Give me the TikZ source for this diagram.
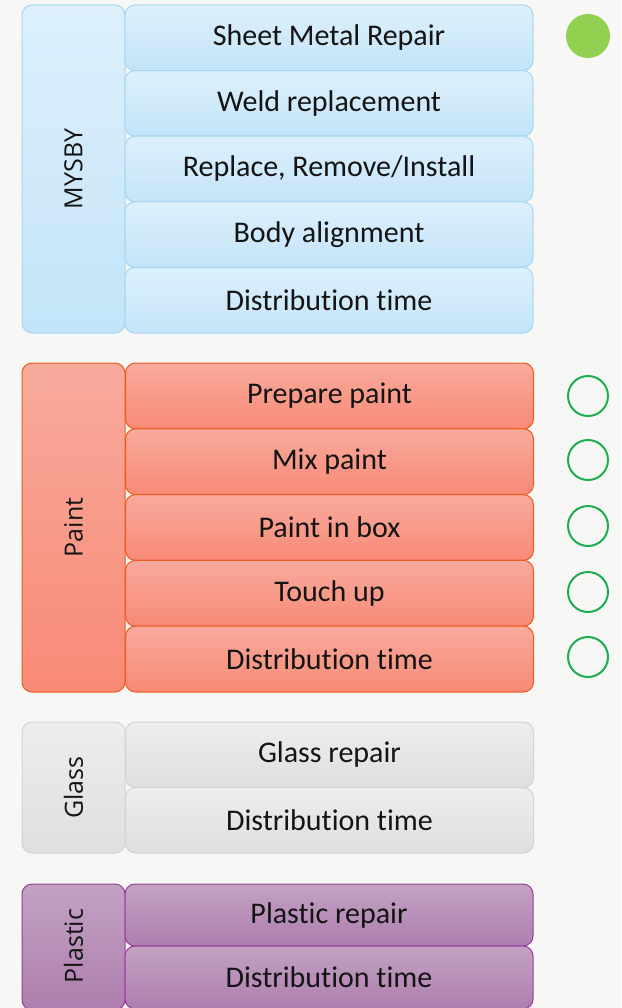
\documentclass[tikz,border=0pt]{standalone}
\usepackage{fontspec}
\setmainfont[Ligatures=NoCommon]{Carlito}
\newfontfamily\labfont{Open Sans}
\definecolor{bgc}{HTML}{F7F7F5}
\definecolor{bluetop}{HTML}{DDF0FC}
\definecolor{bluebot}{HTML}{C3E4F9}
\definecolor{bluebd}{HTML}{A6D6F2}
\definecolor{redtop}{HTML}{F8AA9D}
\definecolor{redbot}{HTML}{F88A76}
\definecolor{redbd}{HTML}{EE5A1E}
\definecolor{graytop}{HTML}{EDEDEC}
\definecolor{graybot}{HTML}{E0DFDD}
\definecolor{graybd}{HTML}{D3D3D1}
\definecolor{purtop}{HTML}{C2A2C3}
\definecolor{purbot}{HTML}{AE7EAE}
\definecolor{purbd}{HTML}{9A3B9C}
\definecolor{dotfill}{HTML}{92D050}
\definecolor{ringc}{HTML}{1DAE50}
\definecolor{txt}{HTML}{141414}
\tikzset{
  box/.style={rectangle, rounded corners=10pt, line width=1pt, inner sep=0pt, text=txt},
  item/.style={box, minimum width=408pt, font=\fontsize{30}{32}\selectfont},
  grp/.style={box, minimum width=103pt},
  blueb/.style={draw=bluebd, top color=bluetop, bottom color=bluebot},
  redb/.style={draw=redbd, top color=redtop, bottom color=redbot},
  grayb/.style={draw=graybd, top color=graytop, bottom color=graybot},
  purb/.style={draw=purbd, top color=purtop, bottom color=purbot},
  glabel/.style={rotate=90, text=txt, font=\labfont\fontsize{25}{27}\selectfont},
  dot/.style={circle, fill=dotfill, minimum size=44pt, inner sep=0pt},
  ring/.style={circle, draw=ringc, line width=2pt, minimum size=40pt, inner sep=0pt},
}
\begin{document}
\begin{tikzpicture}[x=1pt, y=-1pt]
\useasboundingbox (0,0) rectangle (621,1008);
\fill[bgc] (0,0) rectangle (621,1008);
\clip (0,0) rectangle (621,1008);
% MYSBY
\node[grp, blueb, minimum height=328pt] (g1) at (73.5,169) {};
\node[glabel] (l1) at (g1.center) {MYSBY};
\node[item, blueb, minimum height=65.6pt] (a1) at (329,37.8) {Sheet Metal Repair};
\node[item, blueb, minimum height=65.6pt] (a2) at (329,103.4) {Weld replacement};
\node[item, blueb, minimum height=65.6pt] (a3) at (329,169.0) {Replace, Remove/Install};
\node[item, blueb, minimum height=65.6pt] (a4) at (329,234.6) {Body alignment};
\node[item, blueb, minimum height=65.6pt] (a5) at (329,300.2) {Distribution time};
\node[dot] (d1) at (588,36) {};
% Paint
\node[grp, redb, minimum height=329pt] (g2) at (73.5,527.5) {};
\node[glabel] (l2) at (g2.center) {Paint};
\node[item, redb, minimum height=65.8pt] (b1) at (329.5,395.9) {Prepare paint};
\node[item, redb, minimum height=65.8pt] (b2) at (329.5,461.7) {Mix paint};
\node[item, redb, minimum height=65.8pt] (b3) at (329.5,527.5) {Paint in box};
\node[item, redb, minimum height=65.8pt] (b4) at (329.5,593.3) {Touch up};
\node[item, redb, minimum height=65.8pt] (b5) at (329.5,659.1) {Distribution time};
\node[ring] (r1) at (588,396) {};
\node[ring] (r2) at (588,460) {};
\node[ring] (r3) at (588,526) {};
\node[ring] (r4) at (588,592) {};
\node[ring] (r5) at (588,657) {};
% Glass
\node[grp, grayb, minimum height=131pt] (g3) at (73.5,787.5) {};
\node[glabel] (l3) at (g3.center) {Glass};
\node[item, grayb, minimum height=65.5pt] (c1) at (329.5,754.8) {Glass repair};
\node[item, grayb, minimum height=65.5pt] (c2) at (329.5,820.3) {Distribution time};
% Plastic
\node[grp, purb, minimum height=126pt] (g4) at (73.5,947) {};
\node[glabel] (l4) at (73.5,946) {Plastic};
\node[item, purb, minimum height=62pt] (e1) at (329,915) {Plastic repair};
\node[item, purb, minimum height=63pt] (e2) at (329,977.5) {Distribution time};
\end{tikzpicture}
\end{document}
